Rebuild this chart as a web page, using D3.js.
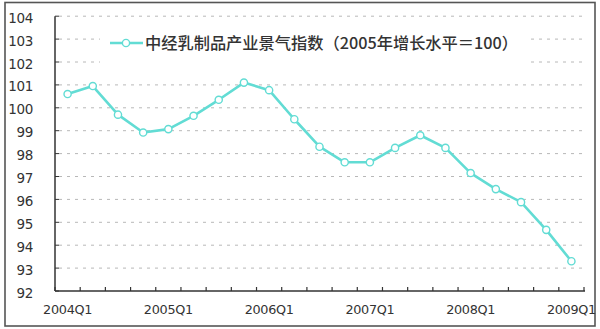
<!DOCTYPE html>
<html>
<head>
<meta charset="utf-8">
<script src="https://cdn.jsdelivr.net/npm/d3@7"></script>
<style>
html,body{margin:0;padding:0;background:#fff;}
svg{display:block;}
</style>
</head>
<body>
<svg id="chart" width="600" height="329"></svg>
<script>
const categories = ["2004Q1","2004Q2","2004Q3","2004Q4","2005Q1","2005Q2","2005Q3","2005Q4","2006Q1","2006Q2","2006Q3","2006Q4","2007Q1","2007Q2","2007Q3","2007Q4","2008Q1","2008Q2","2008Q3","2008Q4","2009Q1"];
const values = [100.6, 100.95, 99.7, 98.92, 99.07, 99.65, 100.35, 101.1, 100.77, 99.5, 98.3, 97.62, 97.62, 98.25, 98.8, 98.25, 97.15, 96.45, 95.88, 94.67, 93.3];
const xLabels = ["2004Q1","2005Q1","2006Q1","2007Q1","2008Q1","2009Q1"];
const yTicks = [92,93,94,95,96,97,98,99,100,101,102,103,104];
const seriesName = "中经乳制品产业景气指数（2005年增长水平＝100）";

(function(){
const svg = d3.select("#chart");
const pL = 55, pR = 584, pT = 16.2, pB = 291;
const lineColor = "#62dcd4";

// frame
svg.append("rect").attr("x",5).attr("y",2.5).attr("width",590).attr("height",323.5)
  .attr("fill","#fff").attr("stroke","#555").attr("stroke-width",1.6);

const x = d3.scaleBand().domain(categories).range([pL,pR]).padding(0);
const y = d3.scaleLinear().domain([92,104]).range([pB,pT]);
const cx = d => x(d) + x.bandwidth()/2;

// gridlines
svg.append("g").selectAll("line").data(yTicks.filter(t=>t>92)).join("line")
  .attr("x1",pL+4).attr("x2",pR).attr("y1",d=>y(d)).attr("y2",d=>y(d))
  .attr("stroke","#b8b8b8").attr("stroke-width",1).attr("stroke-dasharray","3,5");
// y inner ticks
svg.append("g").selectAll("line").data(yTicks).join("line")
  .attr("x1",pL).attr("x2",pL+4).attr("y1",d=>y(d)).attr("y2",d=>y(d))
  .attr("stroke","#333").attr("stroke-width",1);

// legend background box
svg.append("rect").attr("x",100).attr("y",24).attr("width",426).attr("height",45).attr("fill","#fff");

// axes lines
svg.append("line").attr("x1",pL).attr("x2",pL).attr("y1",pT).attr("y2",pB)
  .attr("stroke","#333").attr("stroke-width",1.5);
svg.append("line").attr("x1",pL).attr("x2",pR+1).attr("y1",pB).attr("y2",pB)
  .attr("stroke","#333").attr("stroke-width",1.5);
// x ticks at band boundaries
const bounds = categories.map(c=>x(c)).concat([x.range()[1]]);
svg.append("g").selectAll("line").data(bounds).join("line")
  .attr("x1",d=>d).attr("x2",d=>d).attr("y1",pB).attr("y2",pB-4)
  .attr("stroke","#333").attr("stroke-width",1.2);

// y labels
const yAxis = svg.append("g").attr("transform",`translate(${pL},0)`)
  .call(d3.axisLeft(y).tickValues(yTicks).tickSize(0).tickPadding(22).tickFormat(d3.format("d")));
yAxis.select(".domain").remove();
yAxis.selectAll("text").attr("font-family","DejaVu Sans").attr("font-size",13.5)
  .attr("fill","#333").attr("dy","0.45em").attr("letter-spacing","-0.3");

// x labels
const xAxis = svg.append("g").attr("transform",`translate(0,${pB})`)
  .call(d3.axisBottom(x).tickValues(xLabels).tickSize(0).tickPadding(14));
xAxis.select(".domain").remove();
xAxis.selectAll("text").attr("font-family","DejaVu Sans").attr("font-size",12.8)
  .attr("fill","#333").attr("letter-spacing","-0.3");

// line
const line = d3.line().x((d,i)=>cx(categories[i])).y(d=>y(d));
svg.append("path").datum(values).attr("d",line).attr("fill","none")
  .attr("stroke",lineColor).attr("stroke-width",2.6).attr("stroke-linejoin","round");
svg.append("g").selectAll("circle").data(values).join("circle")
  .attr("cx",(d,i)=>cx(categories[i])).attr("cy",d=>y(d)).attr("r",3.6)
  .attr("fill","#fff").attr("stroke",lineColor).attr("stroke-width",1.4);

// legend
svg.append("line").attr("x1",110).attr("x2",143).attr("y1",43).attr("y2",43)
  .attr("stroke",lineColor).attr("stroke-width",2.6);
svg.append("circle").attr("cx",126).attr("cy",43).attr("r",3.6)
  .attr("fill","#fff").attr("stroke",lineColor).attr("stroke-width",1.4);
svg.append("text").attr("x",145).attr("y",43).attr("dy","0.36em")
  .attr("font-family","'Noto Sans CJK SC'").attr("font-size",16).attr("font-weight",500)
  .attr("fill","#333").attr("textLength",373).attr("lengthAdjust","spacingAndGlyphs")
  .text(seriesName);
})();
</script>
</body>
</html>
